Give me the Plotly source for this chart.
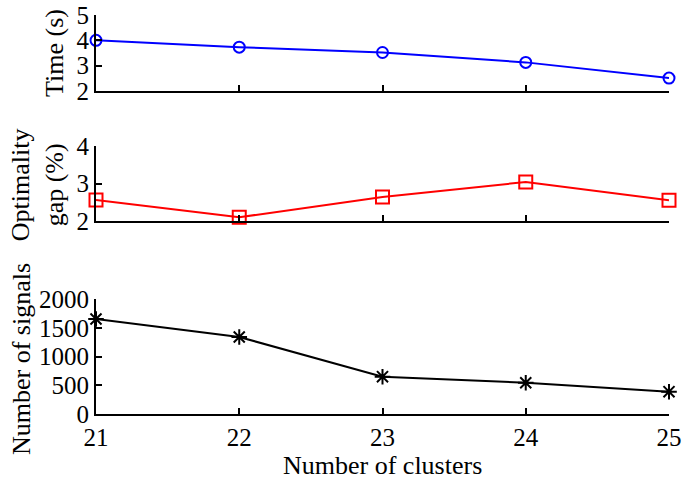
import plotly.graph_objects as go
from plotly.subplots import make_subplots

# Data
clusters = [21, 22, 23, 24, 25]
time_s = [4.0, 3.73, 3.52, 3.13, 2.51]
gap_pct = [2.56, 2.10, 2.64, 3.04, 2.55]
signals = [1652, 1339, 649, 544, 388]

x_ticks = [21, 22, 23, 24, 25]

FONT = "Liberation Serif, Times New Roman, serif"
TICK_FS = 25
TITLE_FS = 26

fig = make_subplots(rows=3, cols=1)

fig.add_trace(go.Scatter(x=clusters, y=time_s, mode="lines+markers",
                         line=dict(color="#0000ff", width=2),
                         marker=dict(symbol="circle-open", size=11, color="#0000ff",
                                     line=dict(width=2)),
                         cliponaxis=False), row=1, col=1)
fig.add_trace(go.Scatter(x=clusters, y=gap_pct, mode="lines+markers",
                         line=dict(color="#ff0000", width=2),
                         marker=dict(symbol="square-open", size=13, color="#ff0000",
                                     line=dict(width=2)),
                         cliponaxis=False), row=2, col=1)
fig.add_trace(go.Scatter(x=clusters, y=signals, mode="lines+markers",
                         line=dict(color="black", width=2),
                         marker=dict(symbol="asterisk-open", size=13, color="black",
                                     line=dict(width=2, color="black")),
                         cliponaxis=False), row=3, col=1)

axis_style = dict(showline=True, linecolor="black", linewidth=2, ticks="inside",
                  ticklen=6, tickwidth=2, tickcolor="black", showgrid=False,
                  zeroline=False, automargin=False, ticklabeloverflow="allow",
                  tickfont=dict(family=FONT, size=TICK_FS, color="black"))

domains = [[0.8095, 1.0], [0.4837, 0.6717], [0.0, 0.2882]]
yranges = [[2, 5], [2, 4], [0, 2000]]
ydticks = [1, 1, 500]
for i in range(3):
    fig.update_xaxes(range=[21, 25], tickvals=x_ticks, showticklabels=(i == 2),
                     row=i + 1, col=1, **axis_style)
    fig.update_yaxes(range=yranges[i], dtick=ydticks[i], domain=domains[i],
                     row=i + 1, col=1, **axis_style)

fig.update_layout(width=685, height=485, showlegend=False,
                  plot_bgcolor="white", paper_bgcolor="white",
                  margin=dict(l=96, r=16, t=15, b=71),
                  font=dict(family=FONT, size=TITLE_FS, color="black"))

ann = dict(xref="paper", yref="paper", showarrow=False,
           font=dict(family=FONT, size=TITLE_FS, color="black"))
fig.add_annotation(text="Time (s)", x=-0.0716, xanchor="center", y=0.905,
                   yanchor="middle", textangle=-90, **ann)
fig.add_annotation(text="Optimality<br>gap (%)", x=-0.103, xanchor="center", y=0.576,
                   yanchor="middle", textangle=-90, **ann)
fig.add_annotation(text="Number of signals", x=-0.129, xanchor="center", y=0.138,
                   yanchor="middle", textangle=-90, **ann)
fig.add_annotation(text="Number of clusters", x=0.5, xanchor="center", y=-0.13,
                   yanchor="middle", **ann)

# drop the default 8px body margin so the figure fills the window
fig.write_html("out.html", config={"displayModeBar": False},
               post_script="document.body.style.margin='0';")
